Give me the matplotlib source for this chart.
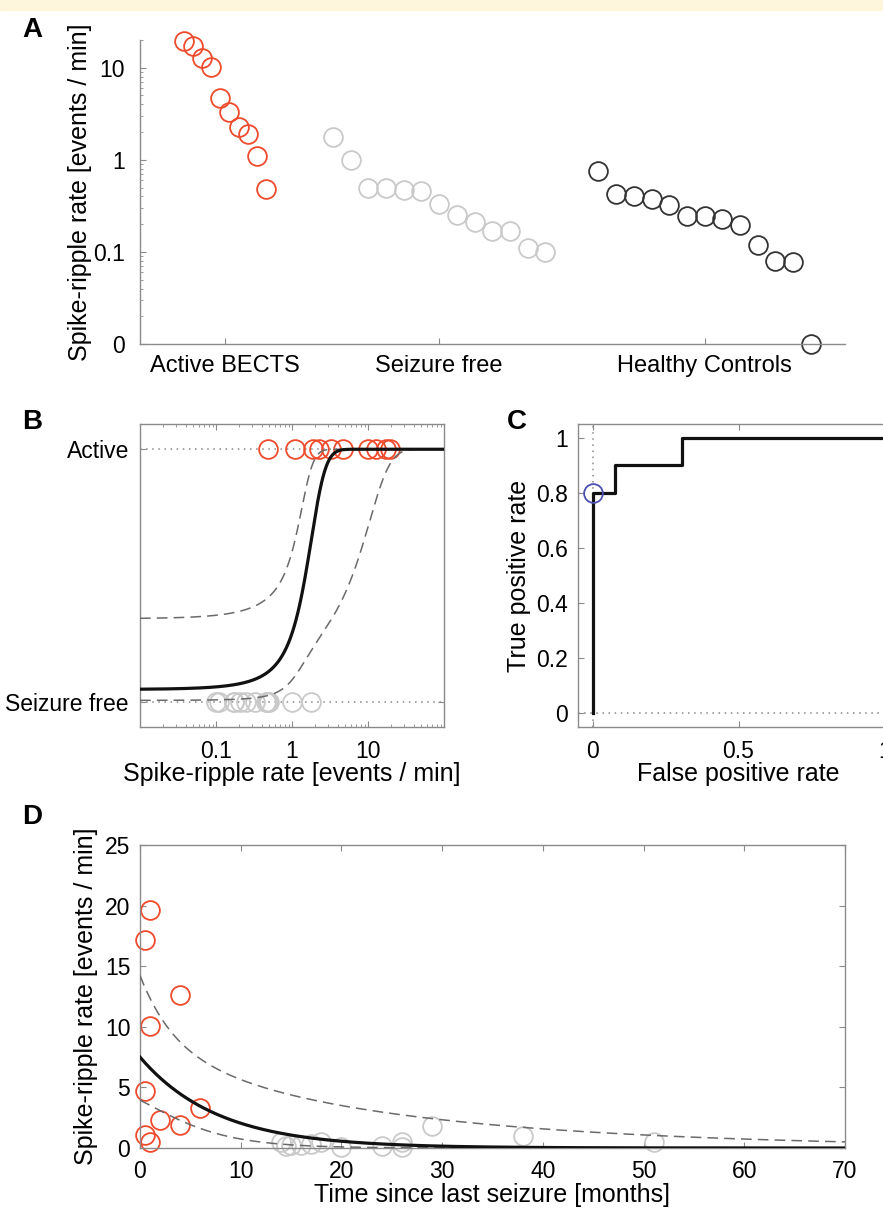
import numpy as np
import matplotlib
matplotlib.use("Agg")
import matplotlib.pyplot as plt
from matplotlib.patches import Rectangle
from matplotlib.ticker import LogLocator, NullFormatter

plt.rcParams["font.family"] = ["Liberation Sans", "DejaVu Sans"]

# spike-ripple rates [events / min]
active_rate = [19.6, 17.2, 12.6, 10.1, 4.7, 3.3, 2.3, 1.9, 1.1, 0.48]
free_rate = [1.79, 1.0, 0.50, 0.49, 0.47, 0.46, 0.33, 0.25, 0.21, 0.17, 0.17, 0.11, 0.10]
control_rate = [0.75, 0.43, 0.40, 0.38, 0.32, 0.245, 0.245, 0.23, 0.196, 0.12, 0.08, 0.078, 0.0]

# months since last seizure
active_months = [1, 0.5, 4, 1, 0.5, 6, 2, 4, 0.5, 1]
free_months = [29, 38, 18, 26, 51, 14, 17, 16, 15, 24, 14.5, 20, 26]

group_names = ["Active BECTS", "Seizure free", "Healthy Controls"]

# logistic fit (B): logit p = b0 + b1*rate ; band from scaled coefficient covariance
logit_coef = [-2.97, 1.98]
logit_cov = [5.1, -3.19, 3.153]

# ROC (C)
roc_fpr = [0, 0, 1 / 13, 1 / 13, 4 / 13, 4 / 13, 1]
roc_tpr = [0, 0.8, 0.8, 0.9, 0.9, 1.0, 1.0]
roc_point = [0, 0.8]

# exponential decay fit (D): ln rate = c0 + c1*months
decay_coef = [2.015, -0.13]
decay_cov = [0.41, -0.012, 0.00863]

RED = "#ee4a2c"
LIGHT = "#c9c9c9"
DARK = "#333333"
BLUE = "#4b50b0"
SPINE = "#8a8a8a"
W, H = 883, 1213


def box(l, t, r, b):
    return [l / W, 1 - b / H, (r - l) / W, (b - t) / H]


def circles(ax, x, y, color, **kw):
    ax.plot(x, y, "o", mfc="none", mec=color, ms=13.5, mew=1.3, clip_on=False, **kw)


def style(ax, full=True):
    for s in ax.spines.values():
        s.set_color(SPINE)
        s.set_linewidth(1.0)
    ax.tick_params(which="both", direction="in", colors=SPINE, labelcolor="k",
                   labelsize=16.5, top=full, right=full)
    ax.tick_params(which="major", length=4)
    ax.tick_params(which="minor", length=2.5)


fig = plt.figure(figsize=(W / 100, H / 100), dpi=100)
fig.add_artist(Rectangle((0, 1 - 10 / H), 1, 10 / H, transform=fig.transFigure,
                         color="#fdf6dc", zorder=-5))

# ---- A
axA = fig.add_axes(box(140, 40, 845, 344))
floor = 0.01
centers = [4.9, 17, 32]
steps = [0.51, 1.0, 1.0]
for vals, c, st, col in zip([active_rate, free_rate, control_rate], centers, steps,
                            [RED, LIGHT, DARK]):
    n = len(vals)
    xs = c + (np.arange(n) - (n - 1) / 2) * st
    ys = np.where(np.array(vals) > 0, vals, floor)
    circles(axA, xs, ys, col)
axA.set_yscale("log")
axA.set_ylim(floor, 20)
axA.set_xlim(0.1, 39.93)
axA.set_yticks([0.01, 0.1, 1, 10], ["0", "0.1", "1", "10"])
axA.yaxis.set_minor_locator(LogLocator(subs=np.arange(2, 10)))
axA.yaxis.set_minor_formatter(NullFormatter())
axA.set_xticks(centers, group_names)
axA.spines[["top", "right"]].set_visible(False)
style(axA, full=False)
axA.tick_params(axis="x", labelsize=17, pad=8)
axA.tick_params(axis="y", pad=11)
axA.set_ylabel("Spike-ripple rate [events / min]", fontsize=18)
axA.yaxis.label.set_va("center")
axA.yaxis.set_label_coords((80 - 140) / 705, 0.5)

# ---- B
axB = fig.add_axes(box(140, 424, 444, 727))
axB.set_xscale("log")
axB.set_xlim(0.01, 100)
axB.set_ylim(-0.1, 1.1)
for yv in (0, 1):
    axB.axhline(yv, color="#888888", ls=(0, (1, 3)), lw=1.1, zorder=1)
circles(axB, free_rate, np.zeros(len(free_rate)), LIGHT, zorder=2)
circles(axB, active_rate, np.ones(len(active_rate)), RED, zorder=2)
xr = np.logspace(-2, 2, 600)
eta = logit_coef[0] + logit_coef[1] * xr
d = np.sqrt(logit_cov[0] + 2 * logit_cov[1] * xr + logit_cov[2] * xr ** 2)
sig = lambda z: 1 / (1 + np.exp(-z))
axB.plot(xr, sig(eta), color="#111111", lw=2.3, zorder=4)
for sgn in (-1, 1):
    axB.plot(xr, sig(eta + sgn * d), color="#6a6a6a", lw=1.1, ls=(0, (7, 4)), zorder=3)
axB.set_xticks([0.1, 1, 10], ["0.1", "1", "10"])
axB.xaxis.set_minor_locator(LogLocator(subs=np.arange(2, 10)))
axB.xaxis.set_minor_formatter(NullFormatter())
axB.set_yticks([0, 1], ["Seizure free", "Active"])
style(axB)
axB.tick_params(axis="x", pad=9)
axB.tick_params(axis="y", pad=8)
axB.set_xlabel("Spike-ripple rate [events / min]", fontsize=18)
axB.xaxis.label.set_va("center")
axB.xaxis.set_label_coords(0.5, (727 - 774) / 303)

# ---- C
axC = fig.add_axes(box(578, 424, 899, 727))
axC.set_xlim(-0.05, 1.05)
axC.set_ylim(-0.05, 1.05)
axC.axhline(0, color="#888888", ls=(0, (1, 3)), lw=1.1, zorder=1)
axC.axvline(0, color="#888888", ls=(0, (1, 3)), lw=1.1, zorder=1)
axC.plot(roc_fpr, roc_tpr, color="#111111", lw=2.3, zorder=3)
circles(axC, [roc_point[0]], [roc_point[1]], BLUE, zorder=4)
axC.set_xticks([0, 0.5, 1], ["0", "0.5", "1"])
axC.set_yticks(np.arange(0, 1.01, 0.2), ["0", "0.2", "0.4", "0.6", "0.8", "1"])
style(axC)
axC.tick_params(axis="x", pad=9)
axC.tick_params(axis="y", pad=7)
axC.set_xlabel("False positive rate", fontsize=18)
axC.xaxis.label.set_va("center")
axC.xaxis.set_label_coords((738 - 578) / 321, (727 - 774) / 303)
axC.set_ylabel("True positive rate", fontsize=18)
axC.yaxis.label.set_va("center")
axC.yaxis.set_label_coords((519 - 578) / 321, 0.5)

# ---- D
axD = fig.add_axes(box(140, 845, 845, 1148))
axD.set_xlim(0, 70)
axD.set_ylim(0, 25)
circles(axD, free_months, free_rate, LIGHT, zorder=2)
circles(axD, active_months, active_rate, RED, zorder=2)
tm = np.linspace(0, 70, 400)
lin = decay_coef[0] + decay_coef[1] * tm
dd = np.sqrt(decay_cov[0] + 2 * decay_cov[1] * tm + decay_cov[2] * tm ** 2)
axD.plot(tm, np.exp(lin), color="#111111", lw=2.3, zorder=4)
for sgn in (-1, 1):
    axD.plot(tm, np.exp(lin + sgn * dd), color="#6a6a6a", lw=1.1, ls=(0, (7, 4)), zorder=3)
axD.set_xticks(np.arange(0, 71, 10))
axD.set_yticks(np.arange(0, 26, 5))
style(axD)
axD.tick_params(axis="x", pad=9)
axD.tick_params(axis="y", pad=7)
axD.set_xlabel("Time since last seizure [months]", fontsize=18)
axD.xaxis.label.set_va("center")
axD.xaxis.set_label_coords(0.5, (1148 - 1195) / 303)
axD.set_ylabel("Spike-ripple rate [events / min]", fontsize=18)
axD.yaxis.label.set_va("center")
axD.yaxis.set_label_coords((86 - 140) / 705, 0.5)

for lab, (px, py) in zip("ABCD", [(32, 30), (32, 422), (517, 422), (32, 817)]):
    fig.text(px / W, 1 - py / H, lab, fontsize=20, fontweight="bold", ha="center", va="center")

fig.savefig("out.png", dpi=100)
